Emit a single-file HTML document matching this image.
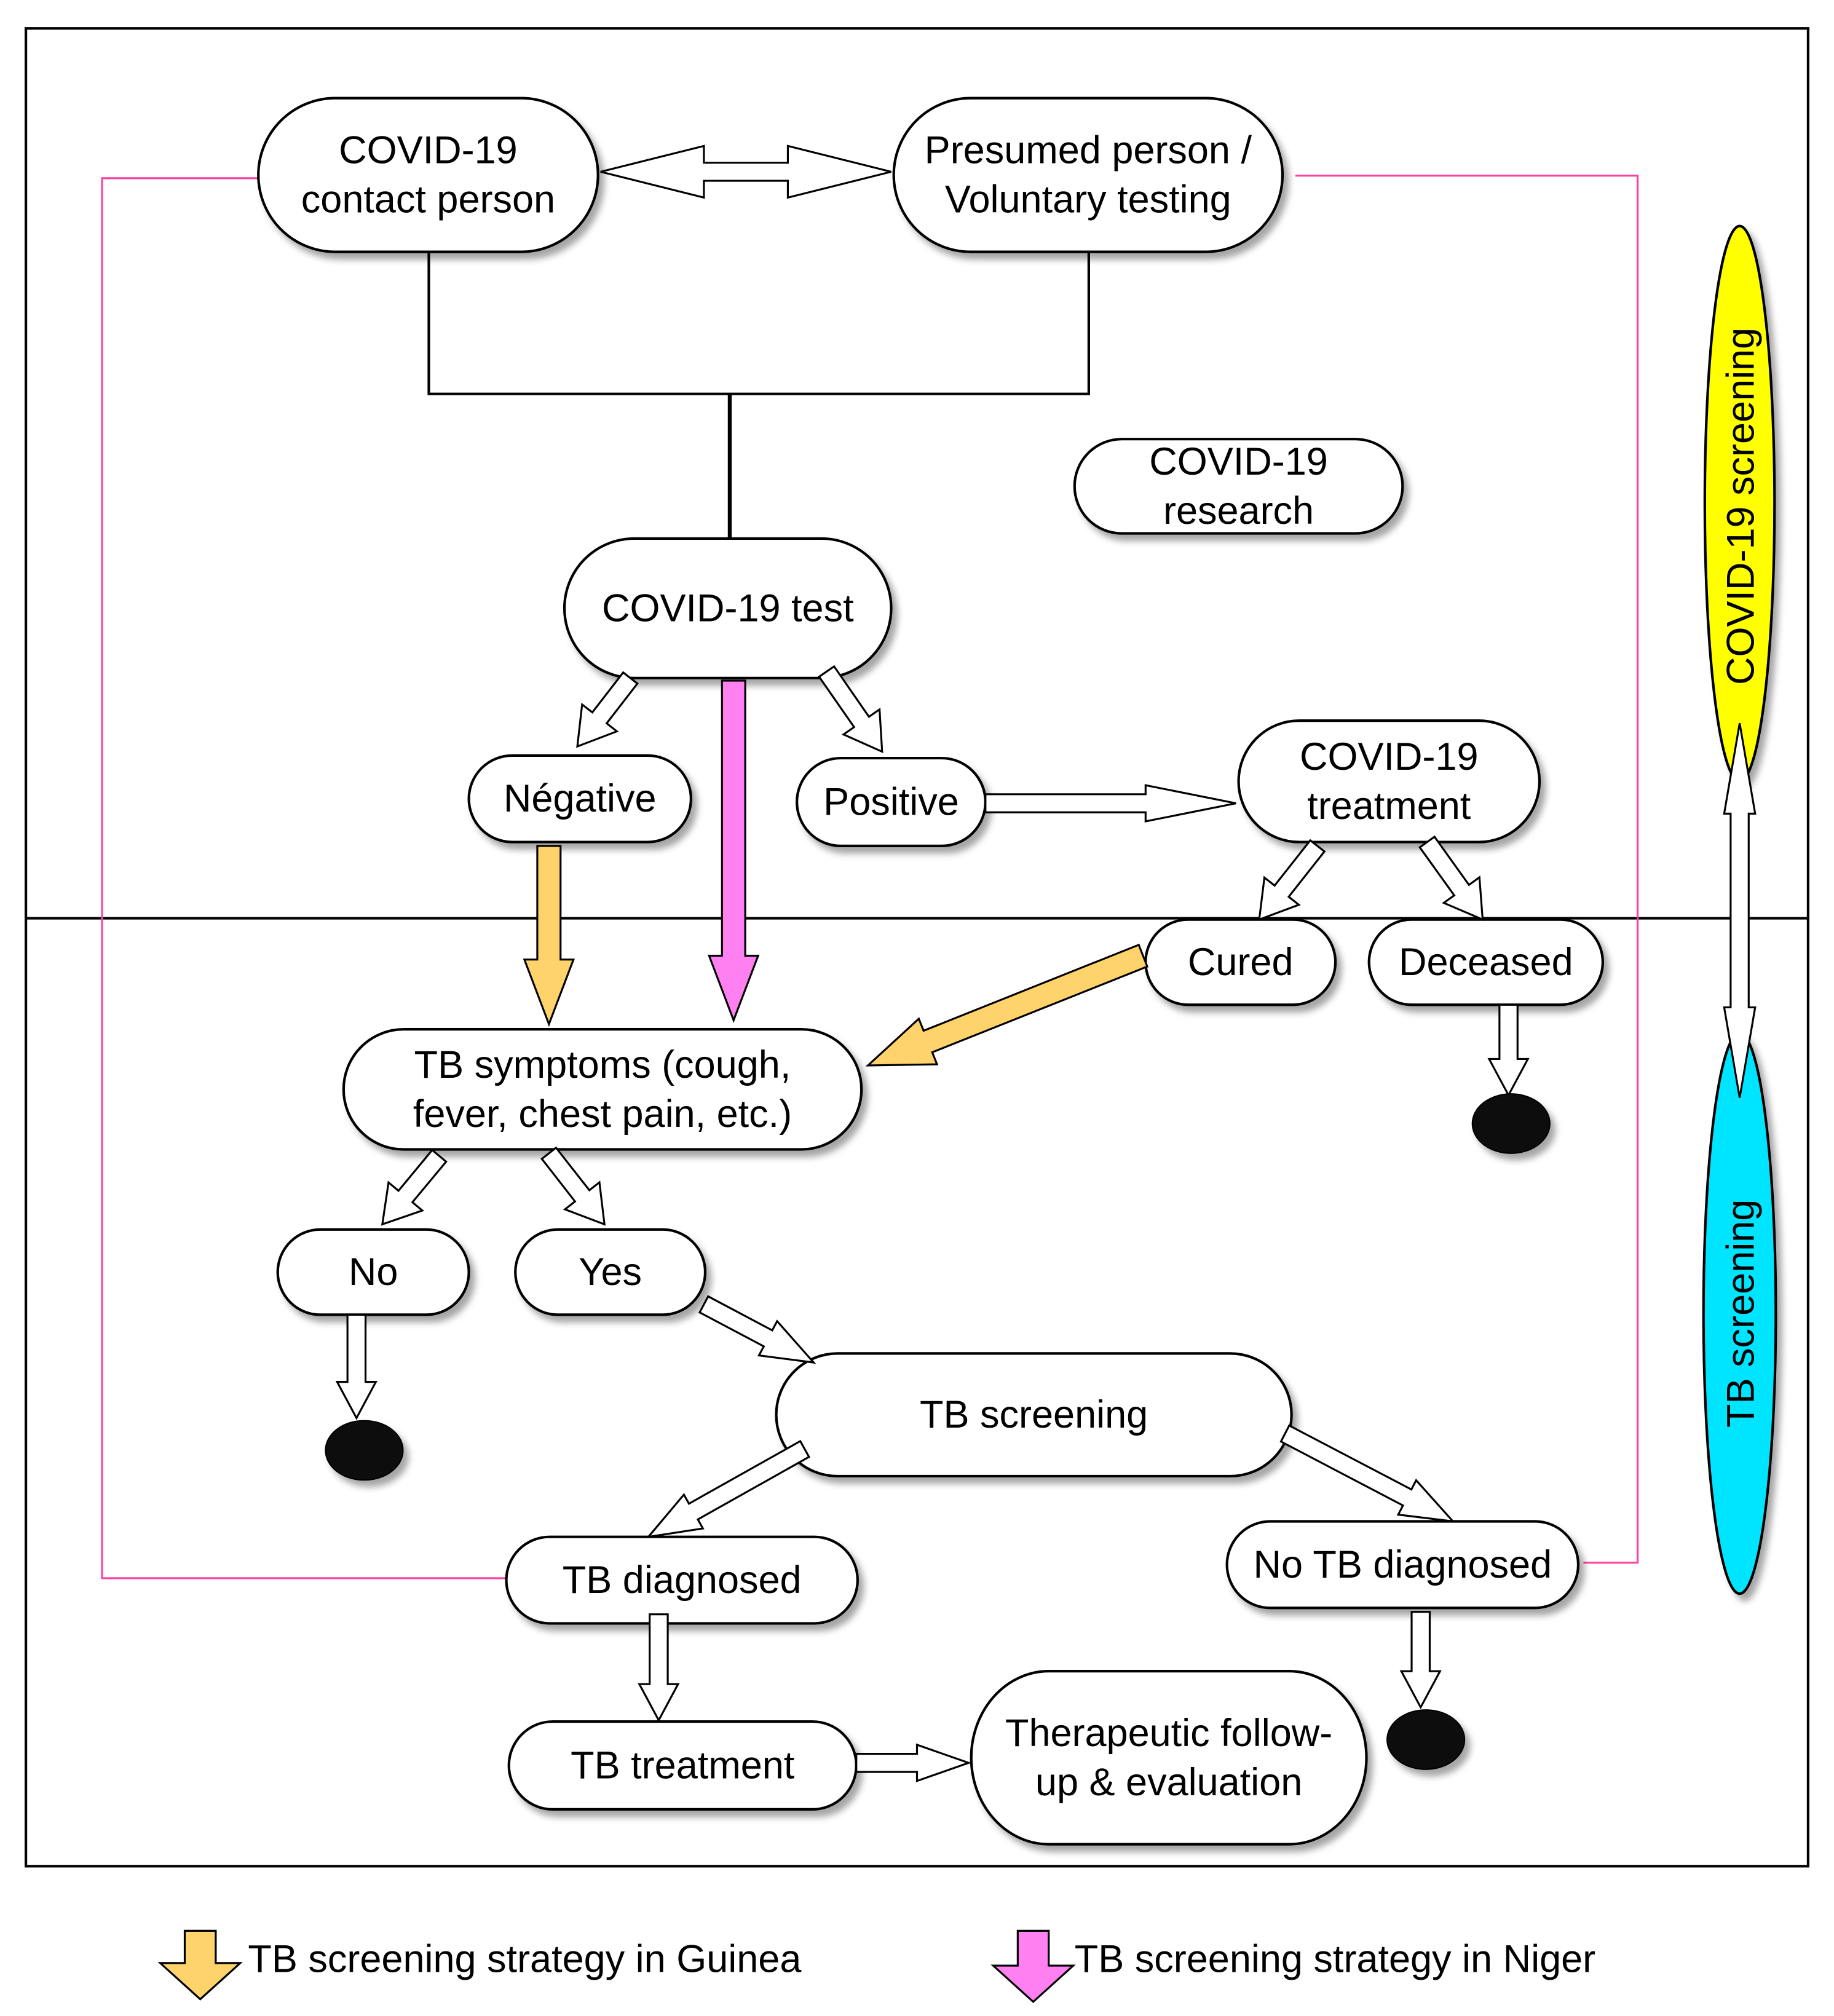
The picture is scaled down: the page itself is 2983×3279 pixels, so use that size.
<!DOCTYPE html>
<html><head><meta charset="utf-8">
<style>
html,body{margin:0;padding:0;background:#fff;}
svg{display:block;}
text{font-family:"Liberation Sans",Arial,sans-serif;font-size:30px;fill:#000;}
</style></head>
<body>
<svg id="s" width="2983" height="3279" viewBox="0 0 1420 1561" xmlns="http://www.w3.org/2000/svg">
<defs>
<filter id="sh" x="-10%" y="-10%" width="130%" height="140%">
<feDropShadow dx="4" dy="5" stdDeviation="2.5" flood-color="#000" flood-opacity="0.35"/>
</filter>
</defs>
<rect x="20" y="22" width="1380" height="1423" fill="none" stroke="#000" stroke-width="2"/>
<line x1="20" y1="711" x2="1400" y2="711" stroke="#000" stroke-width="2"/>
<polyline points="332,195 332,305 843,305 843,195" fill="none" stroke="#000" stroke-width="2"/>
<line x1="565" y1="305" x2="565" y2="417" stroke="#000" stroke-width="3"/>
<polyline points="200,138 79,138 79,1222 392,1222" fill="none" stroke="#ff3fa0" stroke-width="1.5"/>
<polyline points="1003,136 1268,136 1268,1210 1226,1210" fill="none" stroke="#ff3fa0" stroke-width="1.5"/>
<ellipse cx="1347" cy="390" rx="27" ry="215" fill="#ffff00" stroke="#000" stroke-width="2" filter="url(#sh)"/>
<ellipse cx="1347" cy="1017" rx="28" ry="217" fill="#00e5ff" stroke="#000" stroke-width="2" filter="url(#sh)"/>
<text transform="translate(1358,392) rotate(-90)" text-anchor="middle">COVID-19  screening</text>
<text transform="translate(1358,1017) rotate(-90)" text-anchor="middle">TB screening</text>
<g id="nodes"></g>
<g id="arrows"></g>
<ellipse cx="1170" cy="870" rx="30" ry="23" fill="#111" stroke="#000" filter="url(#sh)"/>
<ellipse cx="282" cy="1123" rx="30" ry="23" fill="#111" stroke="#000" filter="url(#sh)"/>
<ellipse cx="1104" cy="1347" rx="30" ry="23" fill="#111" stroke="#000" filter="url(#sh)"/>
<text x="192" y="1527">TB screening strategy in Guinea</text>
<text x="832" y="1527">TB screening strategy in Niger</text>
</svg>
<script>
var NS="http://www.w3.org/2000/svg";
var nodes=[
[200,76,463,195,["COVID-19","contact person"]],
[692,76,993,195,["Presumed person /","Voluntary testing"]],
[832,340,1086,413,["COVID-19","research"]],
[437,417,690,525,["COVID-19  test"]],
[363,585,535,652,["Négative"]],
[617,587,763,655,["Positive"]],
[959,558,1192,652,["COVID-19","treatment"]],
[887,712,1034,778,["Cured"]],
[1060,712,1241,778,["Deceased"]],
[266,797,667,890,["TB symptoms (cough,","fever, chest pain, etc.)"]],
[215,952,363,1018,["No"]],
[399,952,546,1018,["Yes"]],
[601,1048,1000,1143,["TB screening"]],
[392,1190,664,1257,["TB diagnosed"]],
[950,1178,1222,1245,["No TB diagnosed"]],
[394,1333,663,1401,["TB treatment"]],
[752,1294,1058,1428,["Therapeutic follow-","up & evaluation"]]
];
var g=document.getElementById("nodes");
nodes.forEach(function(n){
 var w=n[2]-n[0],h=n[3]-n[1];
 var r=document.createElementNS(NS,"rect");
 r.setAttribute("x",n[0]);r.setAttribute("y",n[1]);r.setAttribute("width",w);r.setAttribute("height",h);
 r.setAttribute("rx",Math.min(h/2,60));r.setAttribute("ry",h/2);
 r.setAttribute("fill","#fff");r.setAttribute("stroke","#000");r.setAttribute("stroke-width","2");
 r.setAttribute("filter","url(#sh)");g.appendChild(r);
 var cx=(n[0]+n[2])/2,cy=(n[1]+n[3])/2,L=n[4];
 L.forEach(function(t,i){
  var tx=document.createElementNS(NS,"text");
  tx.setAttribute("x",cx);tx.setAttribute("y",cy+10+(i-(L.length-1)/2)*38);
  tx.setAttribute("text-anchor","middle");tx.textContent=t;g.appendChild(tx);
 });
});
var ag=document.getElementById("arrows");
function arrow(x1,y1,x2,y2,sw,hw,hl,fill,dbl){
 var dx=x2-x1,dy=y2-y1,L=Math.hypot(dx,dy),ux=dx/L,uy=dy/L,px=-uy,py=ux;
 function P(a,b){return (x1+ux*a+px*b).toFixed(1)+","+(y1+uy*a+py*b).toFixed(1);}
 var s=sw/2,h=hw/2,pts;
 if(dbl){
  pts=[P(0,0),P(hl,h),P(hl,s),P(L-hl,s),P(L-hl,h),P(L,0),P(L-hl,-h),P(L-hl,-s),P(hl,-s),P(hl,-h)];
 } else {
  pts=[P(0,s),P(L-hl,s),P(L-hl,h),P(L,0),P(L-hl,-h),P(L-hl,-s),P(0,-s)];
 }
 var p=document.createElementNS(NS,"polygon");
 p.setAttribute("points",pts.join(" "));p.setAttribute("fill",fill);
 p.setAttribute("stroke","#000");p.setAttribute("stroke-width","1.5");
 ag.appendChild(p);
}
var W="#fff",Y="#ffd36b",K="#ff80f0";
arrow(465,133,690,133,14,40,80,W,true);
arrow(1347,560,1347,850,14,24,70,W,true);
arrow(488,525,447,578,14,34,28,W);
arrow(640,520,683,582,14,34,28,W);
arrow(763,622,957,622,14,28,70,W);
arrow(1020,655,975,712,14,34,28,W);
arrow(1105,652,1148,712,14,34,28,W);
arrow(1168,778,1168,848,14,30,28,W);
arrow(425,655,425,793,18,38,50,Y);
arrow(568,527,568,790,18,38,50,K);
arrow(885,740,672,825,18,38,50,Y);
arrow(340,895,296,948,14,34,28,W);
arrow(425,893,468,948,14,34,28,W);
arrow(276,1018,276,1098,14,30,28,W);
arrow(545,1010,630,1055,14,30,40,W);
arrow(623,1122,502,1190,14,30,40,W);
arrow(995,1110,1125,1178,14,30,40,W);
arrow(1100,1248,1100,1322,14,30,28,W);
arrow(510,1250,510,1332,14,30,28,W);
arrow(663,1365,750,1365,14,28,40,W);
arrow(155,1495,155,1548,24,62,28,Y);
arrow(800,1495,800,1550,24,62,28,K);
</script>
</body></html>
